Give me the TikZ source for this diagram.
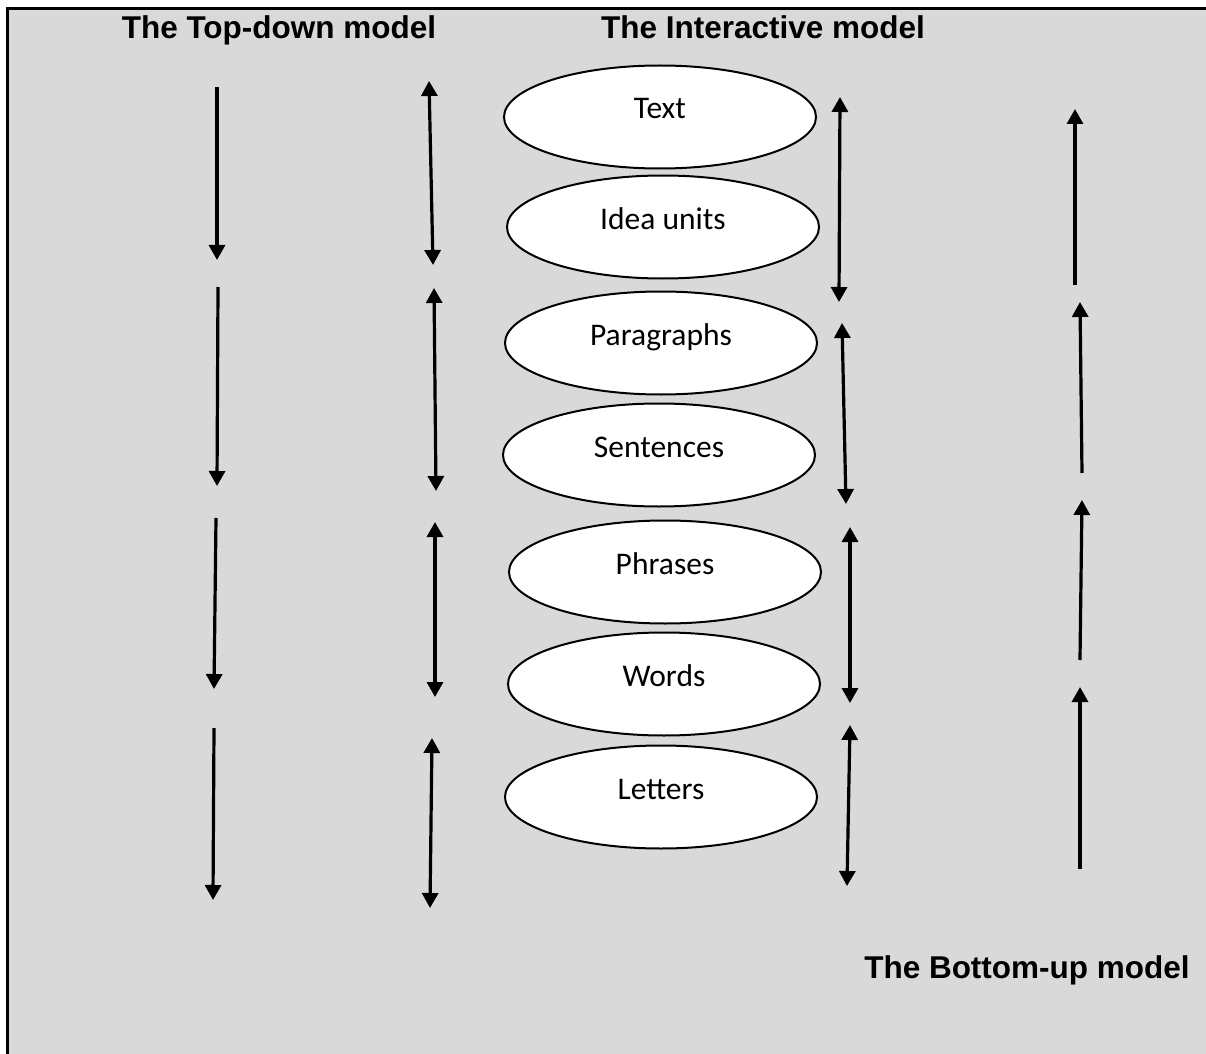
\documentclass[tikz,border=0pt]{standalone}
\usepackage{fontspec}
\usetikzlibrary{shapes.geometric,arrows.meta}
\newfontfamily\labelfont{Carlito}
\newfontfamily\headfont{Liberation Sans}
\definecolor{panelgray}{HTML}{D9D9D9}
\tikzset{
    level box/.style={ellipse, draw, line width=1pt, fill=white,
        minimum width=156pt, minimum height=51.5pt, inner sep=0pt,
        text height=2pt, text depth=0pt,
        font=\labelfont\fontsize{15.75}{18}\selectfont},
    model title/.style={anchor=base, inner sep=0pt,
        font=\headfont\bfseries\fontsize{15.75}{18}\selectfont},
    one way/.style={line width=1.6pt, -{Triangle[length=7.5pt,width=8pt]}},
    two way/.style={line width=1.6pt,
        {Triangle[length=7.5pt,width=8pt]}-{Triangle[length=7.5pt,width=8pt]}},
}
\begin{document}
\begin{tikzpicture}[x=0.5pt, y=-0.5pt]
\useasboundingbox (0,0) rectangle (1206,1054);
\fill[white] (0,0) rectangle (1206,1054);
\fill[panelgray] (8,8.5) rectangle (1206,1054);
\draw[line width=1.5pt] (6.5,8.5) -- (1206,8.5);
\draw[line width=1.5pt] (7.5,7) -- (7.5,1054);

% model names
\node[model title] (topdown) at (279,39) {The Top-down model};
\node[model title] (interactive) at (763,39) {The Interactive model};
\node[model title] (bottomup) at (1027,978) {The Bottom-up model};

% levels of the text
\node[level box] (text) at (660,117) {Text};
\node[level box] (ideas) at (663,227) {Idea units};
\node[level box] (paragraphs) at (661,343) {Paragraphs};
\node[level box] (sentences) at (659,455) {Sentences};
\node[level box] (phrases) at (665,572) {Phrases};
\node[level box] (words) at (664,684) {Words};
\node[level box] (letters) at (661,797) {Letters};

% top-down arrows
\foreach \n/\xa/\ya/\xb/\yb in {td1/217/87/217/260, td2/218/287/217/486,
    td3/216/518/214/689, td4/214/728/213/900}{
    \coordinate (\n-from) at (\xa,\ya);
    \coordinate (\n-to) at (\xb,\yb);
    \draw[one way] (\n-from) -- (\n-to);
}
% interactive arrows
\foreach \n/\xa/\ya/\xb/\yb in {ia1/429/81/433/265, ia2/434/288/436/491,
    ia3/435/522/435/697, ia4/432/738/430/908,
    ib1/840/97/839/302, ib2/842/323/846/504,
    ib3/850/527/850/703, ib4/850/725/847/886}{
    \coordinate (\n-from) at (\xa,\ya);
    \coordinate (\n-to) at (\xb,\yb);
    \draw[two way] (\n-from) -- (\n-to);
}
% bottom-up arrows
\foreach \n/\xa/\ya/\xb/\yb in {bu1/1075/285/1075/109, bu2/1082/473/1080/302,
    bu3/1080/660/1082/500, bu4/1080/869/1080/687}{
    \coordinate (\n-from) at (\xa,\ya);
    \coordinate (\n-to) at (\xb,\yb);
    \draw[one way] (\n-from) -- (\n-to);
}
\end{tikzpicture}
\end{document}
